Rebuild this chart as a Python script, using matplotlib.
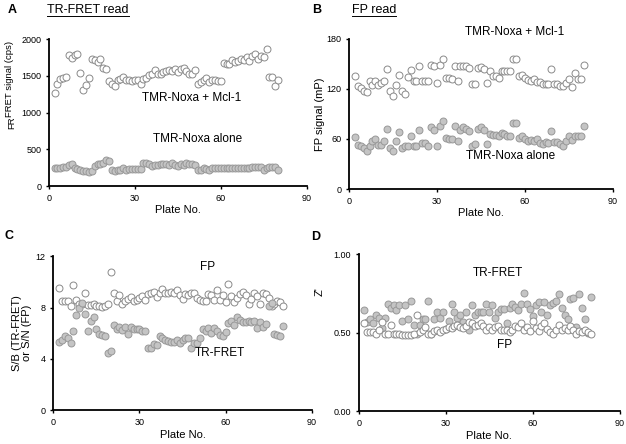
import numpy as np
import matplotlib
matplotlib.use("Agg")
import matplotlib.pyplot as plt
from matplotlib.lines import Line2D

plt.rcParams['font.family'] = ['Liberation Sans', 'DejaVu Sans']

plates = np.arange(2, 81)

# A: TR-FRET read (cps)
fret_mcl1 = [1260, 1383, 1450, 1475, 1490, 1780, 1745, 1780, 1800, 1545, 1305, 1375, 1475, 1735, 1715,
             1690, 1735, 1600, 1590, 1430, 1395, 1365, 1440, 1455, 1480, 1440, 1440, 1435, 1440, 1440,
             1395, 1460, 1475, 1510, 1530, 1580, 1530, 1525, 1555, 1565, 1580, 1565, 1590, 1555, 1590,
             1610, 1565, 1525, 1530, 1580, 1385, 1420, 1440, 1465, 1420, 1440, 1440, 1435, 1435, 1680,
             1660, 1660, 1715, 1690, 1700, 1735, 1715, 1750, 1705, 1770, 1800, 1735, 1770, 1760, 1860,
             1490, 1480, 1360, 1440]
fret_alone = [240, 240, 250, 263, 263, 285, 295, 240, 227, 218, 209, 209, 195, 209, 272,
              295, 295, 318, 354, 340, 218, 209, 218, 218, 240, 218, 227, 227, 227, 227,
              227, 308, 308, 295, 272, 285, 285, 295, 295, 295, 285, 308, 285, 277, 295,
              285, 308, 295, 295, 285, 218, 218, 240, 227, 218, 240, 250, 250, 250, 240,
              240, 240, 240, 240, 240, 250, 240, 250, 250, 263, 263, 254, 263, 218, 240,
              254, 254, 254, 218]

# B: FP read (mP)
fp_mcl1 = [136, 124, 121, 118, 116, 130, 125, 130, 125, 127, 130, 144, 117, 111, 125,
           137, 118, 114, 134, 143, 129, 129, 148, 130, 130, 129, 149, 147, 127, 149,
           156, 133, 133, 132, 148, 129, 147, 148, 147, 145, 126, 126, 145, 146, 144,
           127, 142, 136, 136, 133, 142, 141, 141, 141, 156, 156, 136, 137, 133, 131,
           130, 132, 128, 128, 126, 126, 126, 144, 126, 126, 124, 123, 127, 132, 122,
           139, 132, 132, 149]
fp_alone = [62, 53, 52, 49, 46, 52, 58, 60, 53, 53, 57, 72, 49, 45, 58,
            68, 49, 51, 51, 63, 52, 52, 71, 55, 55, 52, 74, 71, 52, 76,
            81, 61, 60, 60, 75, 57, 71, 74, 72, 70, 52, 54, 72, 74, 71,
            54, 66, 65, 65, 63, 67, 66, 64, 63, 79, 79, 61, 63, 60, 58,
            59, 57, 60, 55, 54, 56, 55, 69, 56, 56, 54, 52, 58, 64, 59,
            64, 64, 63, 76]

# C: S/B (TR-FRET) and S/N (FP)
sn_fp = [9.5, 8.5, 8.5, 8.5, 8.1, 9.75, 8.6, 8.25, 8.3, 9.1, 8.2, 8.2, 8.3, 8.1, 8.1,
         8.05, 8.1, 8.3, 10.8, 9.1, 8.5, 8.95, 8.3, 8.5, 8.7, 8.8, 8.5, 8.6, 8.75, 8.9,
         8.6, 9.05, 9.1, 9.25, 8.8, 9.1, 9.45, 9.1, 9.1, 9.25, 9.1, 9.35, 8.95, 8.7, 9.05,
         8.95, 9.1, 9.1, 8.75, 8.6, 8.5, 8.5, 9.05, 8.95, 8.6, 9.4, 8.6, 8.95, 8.4, 9.8,
         8.9, 8.4, 8.75, 9.05, 9.25, 8.95, 8.25, 8.7, 9.1, 8.9, 8.3, 9.1, 9.05, 8.75, 8.1,
         8.3, 8.5, 8.4, 8.15]
sb_fret = [5.35, 5.5, 5.75, 5.6, 5.25, 6.2, 7.4, 7.95, 8.35, 7.5, 6.2, 6.95, 7.25, 6.3, 5.95,
           5.9, 5.75, 4.5, 4.6, 6.65, 6.3, 6.5, 6.25, 6.5, 5.95, 6.5, 6.3, 6.35, 6.3, 6.2,
           6.2, 4.85, 4.85, 5.15, 5.1, 5.75, 5.6, 5.45, 5.4, 5.35, 5.3, 5.45, 5.25, 5.45, 5.6,
           5.6, 4.85, 5.25, 5.25, 5.6, 6.3, 6.2, 6.4, 6.0, 6.4, 6.15, 5.9, 5.75, 6.1, 6.8,
           6.95, 6.65, 7.3, 7.05, 6.85, 6.9, 6.95, 6.9, 6.95, 6.4, 6.85, 6.5, 6.7, 8.1, 8.35,
           5.95, 5.9, 5.75, 6.55]

# D: Z'
z_fret = [0.645, 0.57, 0.585, 0.56, 0.615, 0.595, 0.53, 0.595, 0.685, 0.66, 0.68, 0.645, 0.68, 0.575, 0.68,
          0.59, 0.70, 0.55, 0.495, 0.55, 0.585, 0.585, 0.70, 0.495, 0.585, 0.63, 0.595, 0.63, 0.525, 0.575,
          0.685, 0.63, 0.595, 0.615, 0.57, 0.63, 0.52, 0.675, 0.615, 0.635, 0.63, 0.63, 0.685, 0.63, 0.68,
          0.595, 0.63, 0.65, 0.65, 0.56, 0.66, 0.685, 0.665, 0.645, 0.685, 0.755, 0.685, 0.65, 0.61, 0.675,
          0.695, 0.63, 0.695, 0.615, 0.675, 0.69, 0.70, 0.745, 0.655, 0.615, 0.585, 0.715, 0.72, 0.535, 0.745,
          0.655, 0.585, 0.50, 0.725]
z_fp = [0.565, 0.505, 0.505, 0.505, 0.49, 0.52, 0.57, 0.495, 0.49, 0.55, 0.495, 0.49, 0.495, 0.485, 0.485,
        0.485, 0.485, 0.49, 0.615, 0.505, 0.52, 0.535, 0.49, 0.49, 0.51, 0.52, 0.505, 0.52, 0.525, 0.535,
        0.53, 0.545, 0.55, 0.535, 0.53, 0.545, 0.57, 0.56, 0.545, 0.55, 0.56, 0.545, 0.52, 0.535, 0.52,
        0.535, 0.545, 0.52, 0.52, 0.52, 0.505, 0.52, 0.545, 0.535, 0.56, 0.52, 0.535, 0.51, 0.575, 0.53,
        0.51, 0.545, 0.56, 0.525, 0.505, 0.495, 0.52, 0.55, 0.52, 0.53, 0.52, 0.545, 0.52, 0.49, 0.51,
        0.505, 0.52, 0.505, 0.49]

fig = plt.figure(figsize=(6.26, 4.44), dpi=100)

open_kw = dict(marker='o', linestyle='none', markersize=5, markerfacecolor='white',
               markeredgecolor='#8a8a8a', markeredgewidth=0.7)
fill_kw = dict(marker='o', linestyle='none', markersize=5, markerfacecolor='#c4c4c4',
               markeredgecolor='#989898', markeredgewidth=0.7)
ann = 8.5


def style(ax, ylim, yticks, fmt=None):
    ax.set_xlim(0, 90)
    ax.set_ylim(*ylim)
    ax.set_xticks([0, 30, 60, 90])
    ax.set_yticks(yticks)
    if fmt:
        ax.set_yticklabels([fmt % t for t in yticks])
    for s in ['top', 'right']:
        ax.spines[s].set_visible(False)
    for s in ['left', 'bottom']:
        ax.spines[s].set_linewidth(1.3)
    ax.tick_params(direction='out', length=2.5, width=1.0, labelsize=6.5, pad=3)
    ax.set_xlabel('Plate No.', fontsize=8, labelpad=2)
    ax.set_facecolor('none')


axA = fig.add_axes([0.078, 0.581, 0.412, 0.331])
axA.plot(plates, fret_mcl1, **open_kw)
axA.plot(plates, fret_alone, **fill_kw)
style(axA, (0, 2000), [0, 500, 1000, 1500, 2000])
axA.text(50, 1200, 'TMR-Noxa + Mcl-1', fontsize=ann, ha='center', va='center')
axA.text(52, 635, 'TMR-Noxa alone', fontsize=ann, ha='center', va='center')

axB = fig.add_axes([0.5575, 0.5743, 0.4217, 0.338])
axB.plot(plates, fp_mcl1, **open_kw)
axB.plot(plates, fp_alone, **fill_kw)
style(axB, (0, 180), [0, 60, 120, 180])
axB.text(56.5, 188, 'TMR-Noxa + Mcl-1', fontsize=ann, ha='center', va='center', clip_on=False)
axB.text(55, 39, 'TMR-Noxa alone', fontsize=ann, ha='center', va='center')
axB.set_ylabel('FP signal (mP)', fontsize=8, labelpad=1)

axC = fig.add_axes([0.0852, 0.0759, 0.4128, 0.347])
axC.plot(plates, sn_fp, **open_kw)
axC.plot(plates, sb_fret, **fill_kw)
style(axC, (0, 12), [0, 4, 8, 12])
axC.text(53.6, 11.2, 'FP', fontsize=ann, ha='center', va='center')
axC.text(58, 4.5, 'TR-FRET', fontsize=ann, ha='center', va='center')
axC.set_ylabel('S/B (TR-FRET)\nor S/N (FP)', fontsize=8, labelpad=3, linespacing=1.0)

axD = fig.add_axes([0.573, 0.0736, 0.417, 0.3536])
axD.plot(plates, z_fret, **fill_kw)
axD.plot(plates, z_fp, **open_kw)
style(axD, (0, 1), [0, 0.5, 1.0], fmt='%.2f')
axD.text(48, 0.883, 'TR-FRET', fontsize=ann, ha='center', va='center')
axD.text(50.3, 0.42, 'FP', fontsize=ann, ha='center', va='center')

# y labels drawn in figure pixels
fig.text(9.5 / 626, 1 - 117 / 444, 'FRET signal (cps)', rotation=90, fontsize=6.8,
         ha='center', va='bottom')
fig.text(11.5 / 626, 1 - 123 / 444, 'FR', rotation=90, fontsize=6.8, ha='center', va='center')
fig.text(320 / 626, 1 - 292 / 444, "Z'", rotation=90, fontsize=8, ha='center', va='center')

# panel letters
for lab, (px, py) in {'A': (12, 10), 'B': (317, 10), 'C': (9, 236), 'D': (316, 237)}.items():
    fig.text(px / 626, 1 - py / 444, lab, fontsize=9, fontweight='bold', ha='center', va='center')

# underlined titles
titles = []
titles.append(fig.text(47 / 626, 1 - 10 / 444, 'TR-FRET read', fontsize=9, ha='left', va='center'))
titles.append(fig.text(352 / 626, 1 - 10 / 444, 'FP read', fontsize=9, ha='left', va='center'))
fig.canvas.draw()
r = fig.canvas.get_renderer()
for t in titles:
    bb = t.get_window_extent(r)
    y = bb.y0 + 0.3
    fig.add_artist(Line2D([bb.x0 / 626, bb.x1 / 626], [y / 444, y / 444],
                          transform=fig.transFigure, color='black', linewidth=0.7))

fig.savefig('out.png', dpi=100)
